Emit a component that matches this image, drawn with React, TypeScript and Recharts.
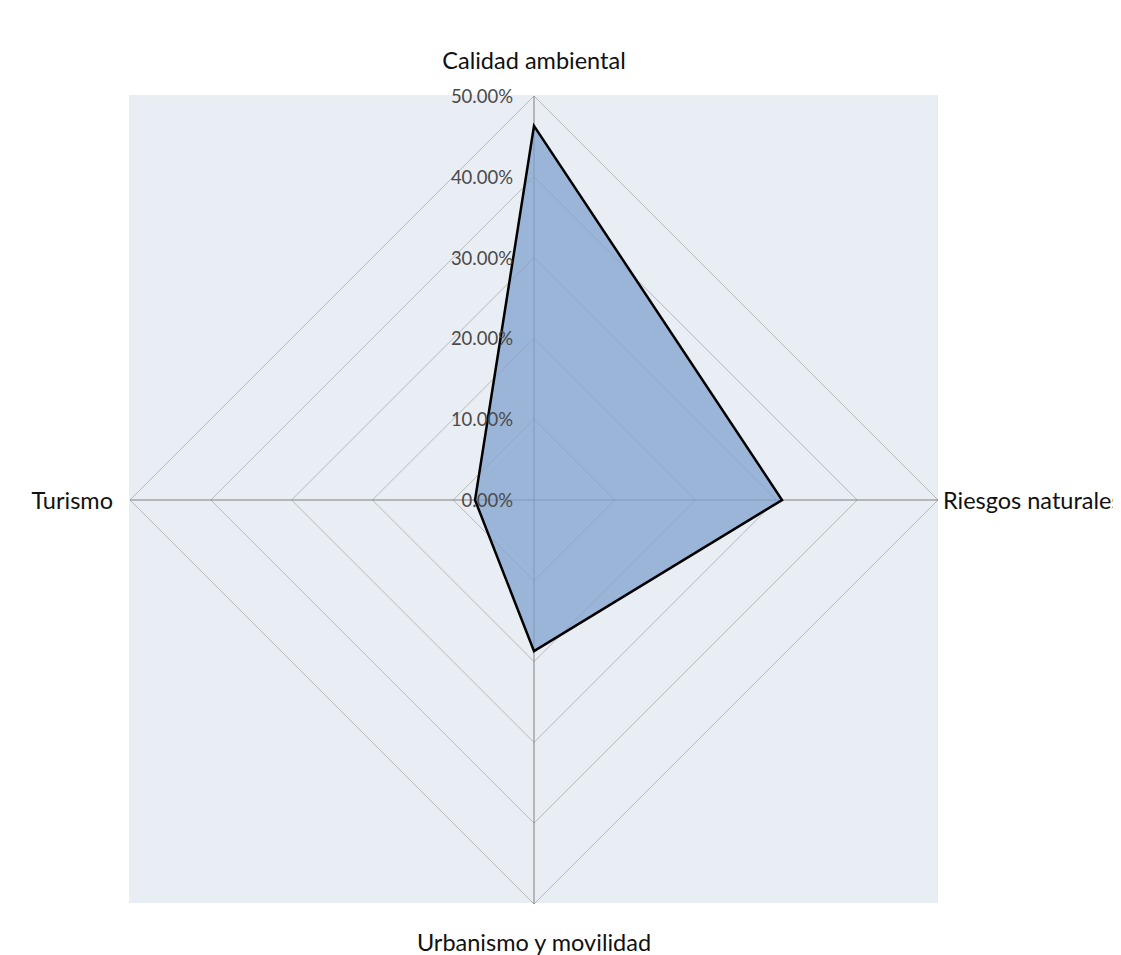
import React from 'react';
import { RadarChart, Radar, PolarGrid, PolarAngleAxis, PolarRadiusAxis } from 'recharts';

const categories = ['Calidad ambiental', 'Riesgos naturales', 'Urbanismo y movilidad', 'Turismo'];
const shares = [46.3, 30.7, 18.7, 7.3];
const radiusTicks = [0, 10, 20, 30, 40, 50];

const data = categories.map((name, i) => ({ name, value: shares[i] }));

const FONT = 'Lato, "Open Sans", sans-serif';

// label offsets from the axis end, per category (top, right, bottom, left)
const LABEL_POS = [
  { dx: 0, dy: -28, anchor: 'middle' },
  { dx: -3, dy: 0, anchor: 'start' },
  { dx: 0, dy: 30, anchor: 'middle' },
  { dx: -9, dy: 0, anchor: 'end' },
];

function AngleTick(props: any) {
  const { x, y, payload, index } = props;
  const p = LABEL_POS[index] || LABEL_POS[0];
  return (
    <text
      x={x + p.dx}
      y={y + p.dy}
      textAnchor={p.anchor}
      dominantBaseline="central"
      fontFamily={FONT}
      fontSize={23.5}
      fill="#111"
    >
      {payload.value}
    </text>
  );
}

function RadiusTick(props: any) {
  const { x, y, payload } = props;
  return (
    <text
      x={x - 21}
      y={y}
      textAnchor="end"
      dominantBaseline="central"
      fontFamily={FONT}
      fontSize={18.5}
      fill="#4a4a4a"
    >
      {Number(payload.value).toFixed(2) + '%'}
    </text>
  );
}

export default function App() {
  return (
    <div style={{ position: 'relative', width: 1113, height: 947, overflow: 'hidden', background: '#fff' }}>
      <div
        style={{
          position: 'absolute',
          left: 121,
          top: 87,
          width: 809,
          height: 808,
          background: '#e9edf4',
        }}
      />
      <div style={{ position: 'absolute', left: 0, top: 0 }}>
        <RadarChart width={1113} height={947} cx={526} cy={492} outerRadius={404} data={data} startAngle={90} endAngle={-270}>
          <PolarGrid gridType="polygon" radialLines={false} stroke="#b8b8b8" strokeWidth={1} />
          <PolarGrid gridType="polygon" polarRadius={[]} radialLines stroke="#808080" strokeWidth={1} />
          <PolarAngleAxis dataKey="name" tick={<AngleTick />} tickLine={false} axisLine={false} />
          <PolarRadiusAxis
            type="number"
            angle={90}
            domain={[0, 50]}
            allowDataOverflow
            ticks={radiusTicks}
            tickCount={6}
            tick={<RadiusTick />}
            axisLine={false}
            tickLine={false}
          />
          <Radar
            dataKey="value"
            fill="#7fa1cf"
            fillOpacity={0.75}
            stroke="#000"
            strokeWidth={2.5}
            isAnimationActive={false}
          />
        </RadarChart>
      </div>
    </div>
  );
}
